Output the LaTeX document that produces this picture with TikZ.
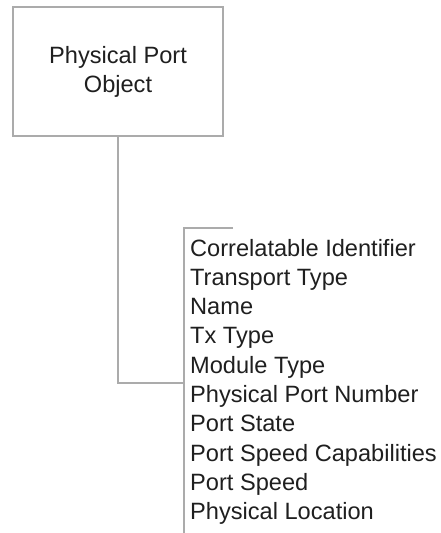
\documentclass[tikz,border=0pt]{standalone}
\usepackage{fontspec}
\setmainfont{Liberation Sans}
\begin{document}
\begin{tikzpicture}[x=1pt, y=-1pt,
  link/.style={draw=black!33, line width=2pt},
  objbox/.style={link, fill=white, minimum width=209.4pt, minimum height=128.7pt,
    inner sep=0pt, align=center, text=black!88,
    font=\fontsize{23.6}{28.5}\selectfont},
  attr/.style={anchor=base west, inner sep=0pt, text=black!88,
    font=\fontsize{23.6}{28.5}\selectfont}]
\useasboundingbox (0,0) rectangle (440,533);

% the object box
\node[objbox] (obj) at (118,71.7) {Physical Port\\Object};

% attribute list
\foreach \t [count=\i] in {Correlatable Identifier, Transport Type, Name, Tx Type,
    Module Type, Physical Port Number, Port State, Port Speed Capabilities,
    Port Speed, Physical Location}
  \node[attr] (a\i) at (190, {256 + 29.33*(\i-1)}) {\t};

% bracket that groups the attributes
\coordinate (tick) at (233,228.3);
\coordinate (brtop) at (184.3,228.3);
\coordinate (join) at (184.3,382.7);
\coordinate (brbot) at (184.3,533);
\draw[link] (tick) -- (brtop) -- (brbot);

% connector from the box to the bracket
\draw[link] (obj.south) |- (join);
\end{tikzpicture}
\end{document}
